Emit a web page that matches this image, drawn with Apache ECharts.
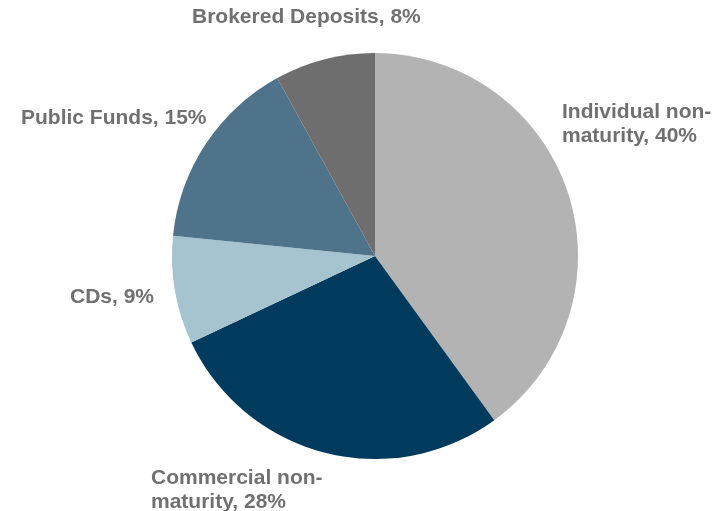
<!DOCTYPE html>
<html>
<head>
<meta charset="utf-8">
<script src="https://cdn.jsdelivr.net/npm/echarts@6/dist/echarts.min.js"></script>
<style>
  html, body { margin: 0; padding: 0; background: #fff; }
  #chart { width: 722px; height: 511px; }
</style>
</head>
<body>
<div id="chart"></div>
<script>
// 存款结构 - categories and shares (%), clockwise from 12 o'clock
var categories = ['Individual non-\nmaturity', 'Commercial non-\nmaturity', 'CDs', 'Public Funds', 'Brokered Deposits'];
var shares = [40.0, 28.0, 8.6, 15.4, 8.0];
var colors = ['#b3b3b3', '#003a5c', '#a5c4cf', '#4e738a', '#6e6e6e'];

// label anchor (left, middle) per slice
var labelPos = [[562, 124], [151, 490], [70, 297], [21, 118], [192, 17]];

var myChart = echarts.init(document.getElementById('chart'));
myChart.setOption({
    animation: false,
    color: colors,
    series: [{
        type: 'pie',
        center: [375, 256],
        radius: 203,
        startAngle: 90,
        clockwise: true,
        data: categories.map(function (c, i) { return { name: c, value: shares[i] }; }),
        label: {
            show: true,
            position: 'outside',
            color: '#707070',
            fontFamily: 'Liberation Sans, Arial, sans-serif',
            fontWeight: 'bold',
            fontSize: 21,
            lineHeight: 24,
            align: 'left',
            overflow: 'none',
            formatter: function (p) {
                return p.name + ', ' + Math.round(p.percent) + '%';
            }
        },
        labelLine: { show: false },
        labelLayout: function (params) {
            var pos = labelPos[params.dataIndex];
            return { x: pos[0], y: pos[1], align: 'left', verticalAlign: 'middle' };
        },
        itemStyle: { borderWidth: 0 },
        emphasis: { disabled: true }
    }]
});
window.addEventListener('resize', function () {
    myChart.resize();
});
</script>
</body>
</html>
